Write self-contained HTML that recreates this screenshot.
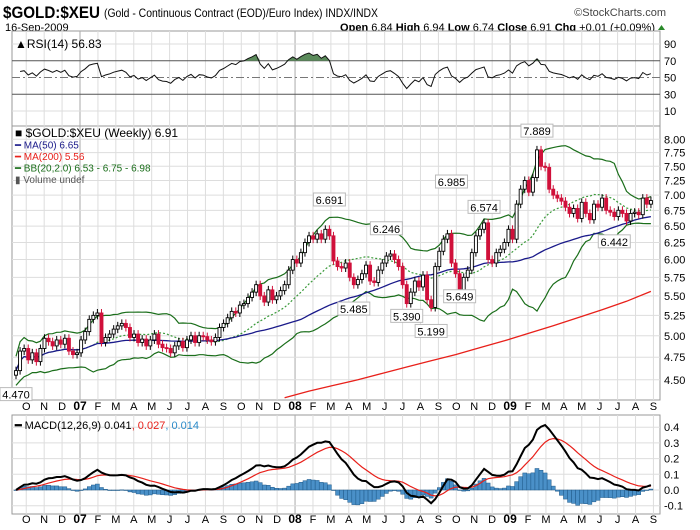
<!DOCTYPE html>
<html><head><meta charset="utf-8"><style>
body{margin:0;background:#fff;}
svg{display:block;font-family:"Liberation Sans",sans-serif;}
</style></head><body>
<svg id="c" width="700" height="530" viewBox="0 0 700 530" xmlns="http://www.w3.org/2000/svg">
<defs><clipPath id="pc"><rect x="12" y="126" width="648" height="274"/></clipPath>
<clipPath id="mc"><rect x="12" y="415" width="648" height="99"/></clipPath></defs>
<text x="3" y="18" font-size="17" font-weight="bold" textLength="97" lengthAdjust="spacingAndGlyphs">$GOLD:$XEU</text>
<text x="104" y="17" font-size="12" textLength="274" lengthAdjust="spacingAndGlyphs">(Gold - Continuous Contract (EOD)/Euro Index) INDX/INDX</text>
<text x="666" y="16" font-size="11" fill="#444" text-anchor="end">©StockCharts.com</text>
<text x="5" y="31" font-size="11">16-Sep-2009</text>
<text x="655" y="31" font-size="11" text-anchor="end"><tspan font-weight="bold">Open</tspan> 6.84 <tspan font-weight="bold">High</tspan> 6.94 <tspan font-weight="bold">Low</tspan> 6.74 <tspan font-weight="bold">Close</tspan> 6.91 <tspan font-weight="bold">Chg</tspan> +0.01 (+0.09%)</text>
<polygon points="658,30 665,30 661.5,25" fill="#2a8a2a"/>
<g id="g"></g>
</svg>
<script>
const closes=[4.60,4.82,4.85,4.72,4.80,4.70,4.85,4.97,4.93,4.88,4.95,4.90,4.97,4.82,4.78,4.80,4.95,5.05,5.20,5.25,
5.28,4.92,4.98,5.02,5.08,5.12,5.15,5.10,4.98,5.02,4.92,4.96,4.88,4.95,5.02,4.90,4.86,4.85,4.80,4.88,
4.93,4.86,4.95,5.00,4.92,5.00,4.99,4.95,4.93,4.98,5.10,5.15,5.22,5.30,5.28,5.38,5.40,5.48,5.55,5.65,
5.50,5.42,5.58,5.45,5.50,5.57,5.65,5.85,6.00,5.95,6.10,6.25,6.35,6.30,6.38,6.30,6.45,6.35,5.98,5.90,
5.88,5.95,5.75,5.65,5.72,5.80,5.92,5.70,5.68,5.85,5.95,6.05,6.08,6.00,5.90,5.65,5.40,5.55,5.70,5.62,
5.78,5.45,5.35,5.90,6.12,6.30,6.38,5.95,5.80,5.55,5.75,5.85,6.10,6.35,6.45,6.55,6.00,5.95,6.10,6.15,
6.25,6.45,6.30,6.85,7.10,7.25,7.05,7.30,7.80,7.50,7.48,7.10,7.00,6.95,6.90,6.80,6.70,6.78,6.62,6.88,
6.70,6.60,6.85,6.80,6.95,6.75,6.72,6.65,6.75,6.70,6.58,6.70,6.72,6.68,6.95,6.85,6.91];
const ma200Start=66, ma200Step=6;
const ma200=[4.31,4.38,4.44,4.50,4.57,4.64,4.71,4.78,4.86,4.94,5.03,5.12,5.22,5.32,5.43,5.56];
const priceTicks=[4.50,4.75,5.00,5.25,5.50,5.75,6.00,6.25,6.50,6.75,7.00,7.25,7.50,7.75,8.00];
const rsiTicks=[10,30,50,70,90];
const macdTicks=[-0.1,0.0,0.1,0.2,0.3,0.4];
const monthLabels=["O","N","D","07","F","M","A","M","J","J","A","S","O","N","D","08","F","M","A","M","J","J","A","S","O","N","D","09","F","M","A","M","J","J","A","S"];
const annotLabels=["7.889","6.985","6.691","6.574","6.246","5.485","5.199","5.390","5.649","6.442","4.470"];
const annotIdx=[128,107,77,115,91,83,102,96,109,147,0];
const annotPrice=[7.889,6.985,6.691,6.574,6.246,5.485,5.199,5.390,5.649,6.442,4.470];
const annotAbove=[1,1,1,1,1,0,0,0,0,0,0];

const NS="http://www.w3.org/2000/svg", G=document.getElementById('g');
function el(t,a,p){const e=document.createElementNS(NS,t);for(const k in a)e.setAttribute(k,a[k]);(p||G).appendChild(e);return e;}
const xOf=i=>16+i*4.07;
const yP=p=>139.3+418*Math.log(8/p);
const yR=v=>119.4-v*0.8375;
const yM=v=>490-v*157;
const L=12,R=660;
[[31,126],[126,400],[415,514]].forEach((p,k)=>{const r=el('rect',{x:L,y:p[0],width:R-L,height:p[1]-p[0],fill:'#fff',stroke:'#999'});

});
monthLabels.forEach((m,k)=>{const x=80+(k-3)*17.92;
 [[31,126],[126,400],[415,514]].forEach(p=>{const ln=el('line',{x1:x,x2:x,y1:p[0],y2:p[1],stroke:/\d/.test(m)?'#aaa':'#ddd'});
 
 });
 [410,523].forEach(y=>{const t=el('text',{x:x,y:y,'font-size':/\d/.test(m)?12:11,'font-weight':/\d/.test(m)?'bold':'normal','text-anchor':'middle'});t.textContent=m;
 
 });
});
priceTicks.forEach(v=>{const y=yP(v);const ln=el('line',{x1:L,x2:R,y1:y,y2:y,stroke:'#ddd'});
 
 
 const t=el('text',{x:664,y:y+4,'font-size':11});t.textContent=v.toFixed(2);
 
 });
rsiTicks.forEach(v=>{const y=yR(v);const ln=el('line',{x1:L,x2:R,y1:y,y2:y,stroke:(v==30||v==70)?'#555':(v==50?'#777':'#ddd'),'stroke-dasharray':v==50?'8,3,2,3':'none'});
 
 
 const t=el('text',{x:664,y:y+4,'font-size':11});t.textContent=v;
 
 });
macdTicks.forEach(v=>{const y=yM(v);const ln=el('line',{x1:L,x2:R,y1:y,y2:y,stroke:'#ddd'});
 
 
 const t=el('text',{x:664,y:y+4,'font-size':11});t.textContent=v.toFixed(1);
 
 });
const n=closes.length;
const ma50=[],bbU=[],bbM=[],bbL=[];
for(let i=0;i<n;i++){
 const w50=closes.slice(Math.max(0,i-49),i+1);ma50.push(w50.reduce((a,b)=>a+b,0)/w50.length);
 const w=closes.slice(Math.max(0,i-19),i+1);const m=w.reduce((a,b)=>a+b,0)/w.length;
 const sd=Math.sqrt(w.reduce((a,b)=>a+(b-m)*(b-m),0)/w.length);
 bbM.push(m);bbU.push(m+2*Math.max(sd,0.08));bbL.push(m-2*Math.max(sd,0.08));}
function ema(arr,p){const k=2/(p+1);const o=[arr[0]];for(let i=1;i<arr.length;i++)o.push(arr[i]*k+o[i-1]*(1-k));return o;}
const e12=ema(closes,12),e26=ema(closes,26);
const macd=e12.map((v,i)=>v-e26[i]);const sig=ema(macd,9);const hist=macd.map((v,i)=>v-sig[i]);
const rsi=[];let ag=0.05,al=0.05;
for(let i=1;i<n;i++){const d=closes[i]-closes[i-1];const g=Math.max(d,0),l=Math.max(-d,0);
 ag=(ag*13+g)/14;al=(al*13+l)/14;
 rsi.push([i,al==0?100:100-100/(1+ag/al)]);}
function pl(pts,attrs,name,clip){const a=Object.assign({fill:'none','points':pts.map(p=>p[0].toFixed(1)+','+p[1].toFixed(1)).join(' ')},attrs);
 if(clip)a['clip-path']=clip;const e=el('polyline',a);
 
 return e;}
const y70=yR(70);
const rp=rsi.map(r=>[xOf(r[0]),yR(r[1])]);
const fillPts=[[rp[0][0],y70]].concat(rp.map(p=>[p[0],Math.min(p[1],y70)])).concat([[rp[rp.length-1][0],y70]]);
const rf=el('polygon',{points:fillPts.map(p=>p.join(',')).join(' '),fill:'#5a8a5a'});


pl(rp,{stroke:'#111','stroke-width':1},'rsi-line');
pl(bbU.map((v,i)=>[xOf(i),yP(v)]),{stroke:'#1a6e1a','stroke-width':1.2},'bollinger-upper','url(#pc)');
pl(bbL.map((v,i)=>[xOf(i),yP(v)]),{stroke:'#1a6e1a','stroke-width':1.2},'bollinger-lower','url(#pc)');
pl(bbM.map((v,i)=>[xOf(i),yP(v)]),{stroke:'#3a9a3a','stroke-width':1.2,'stroke-dasharray':'2,2'},'bollinger-middle','url(#pc)');
pl(ma50.map((v,i)=>[xOf(i),yP(v)]),{stroke:'#1a1a8a','stroke-width':1.3},'ma50-line','url(#pc)');
pl(ma200.map((v,k)=>[xOf(ma200Start+k*ma200Step),yP(v)]),{stroke:'#e8201a','stroke-width':1.3},'ma200-line','url(#pc)');
for(let i=0;i<n;i++){const o=i?closes[i-1]:closes[i]-0.05,c=closes[i];const up=c>=o;const x=xOf(i);
 const top=yP(Math.max(o,c)),bot=yP(Math.min(o,c));
 const col=up?'#000':'#d0103a';
 const wk=el('line',{x1:x,x2:x,y1:top-4,y2:bot+4,stroke:col,'clip-path':'url(#pc)'});
 
 
 const b=el('rect',{x:x-1.5,y:top,width:3,height:Math.max(bot-top,1),fill:up?'#fff':col,stroke:col,'stroke-width':0.9,'clip-path':'url(#pc)'});
 
 }
annotLabels.forEach((s,k)=>{const x=xOf(annotIdx[k]);const y=yP(annotPrice[k]);const ty=annotAbove[k]?y-14:y+12;
 const g=el('g',{});
 
 
 el('rect',{x:x-16,y:ty-7,width:32,height:13,fill:'#fff',stroke:'#bbb'},g);
 const t=el('text',{x:x,y:ty+4,'font-size':11,'text-anchor':'middle'},g);t.textContent=s;});
const leg=[['■ $GOLD:$XEU (Weekly) 6.91','#000'],['━ MA(50) 6.65','#1a1a8a'],['━ MA(200) 5.56','#e8201a'],['━ BB(20,2.0) 6.53 - 6.75 - 6.98','#1a6e1a'],['▮ Volume undef','#555']];
const lf=[12,10,10,10,10];
leg.forEach((l,k)=>{const t=el('text',{x:15,y:137+k*11.5,'font-size':lf[k],fill:l[1]});t.textContent=l[0];
 
 });
const rl=el('text',{x:15,y:48,'font-size':12});rl.textContent='▲RSI(14) 56.83';


for(let i=0;i<n;i++){const x=xOf(i),y0=yM(0),y=yM(hist[i]);
 const b=el('rect',{x:x-2,y:Math.min(y,y0),width:4,height:Math.max(Math.abs(y-y0),0.5),fill:'#4a90c8',stroke:'#1f5a8a','stroke-width':0.5,'clip-path':'url(#mc)'});
 
 }
pl(sig.map((v,i)=>[xOf(i),yM(v)]),{stroke:'#e8201a','stroke-width':1.2},'macd-signal-line','url(#mc)');
pl(macd.map((v,i)=>[xOf(i),yM(v)]),{stroke:'#000','stroke-width':2},'macd-line','url(#mc)');
const ml=el('text',{x:15,y:429,'font-size':11});
ml.innerHTML='<tspan font-weight="bold">━</tspan> MACD(12,26,9) 0.041<tspan fill="#e8201a">, 0.027</tspan><tspan fill="#2a8ac8">, 0.014</tspan>';


</script>
</body></html>
